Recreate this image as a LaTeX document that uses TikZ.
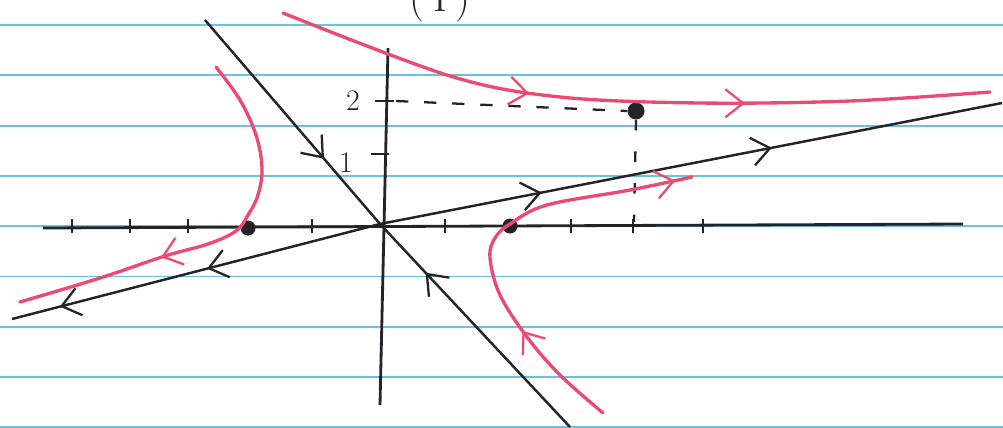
\documentclass[tikz,border=0pt]{standalone}
\usetikzlibrary{arrows.meta,decorations.markings}

\definecolor{ink}{RGB}{35,35,40}
\definecolor{trajred}{RGB}{236,74,112}
\definecolor{ruled}{RGB}{105,195,222}

\begin{document}
\begin{tikzpicture}[
    x=0.02cm, y=-0.02cm,
    ruling/.style={ruled, line width=1.1pt},
    axis/.style={ink, line width=1.6pt},
    manifold/.style={ink, line width=1.4pt},
    traj/.style={trajred, line width=1.9pt, line cap=round},
    tickmark/.style={ink, line width=1.4pt},
    guide/.style={ink, line width=1.3pt, dash pattern=on 7pt off 9pt},
    dot/.style={circle, fill=ink, inner sep=0pt, minimum size=3.4mm},
    lbl/.style={ink, font=\fontsize{17}{17}\selectfont},
    barb/.tip={Straight Barb[length=3.6mm, width=5.6mm, line width=1.3pt]},
    flowat/.style={postaction={decorate, decoration={markings, mark=at position #1 with {\arrow{barb}}}}}]

    \useasboundingbox (0,0) rectangle (1003,427);
    \clip (0,0) rectangle (1003,427);

    % liniertes papier
    \foreach \k in {0,...,8}
        \draw[ruling] (0,{25+50.3*\k}) -- (1003,{25+50.3*\k});

    \node[lbl, font=\fontsize{24}{24}\selectfont, anchor=base] (titel) at (440,11) {(\hspace{5pt}I\hspace{5pt})};

    % achsen
    \coordinate (O) at (380,224);
    \draw[axis] (43,228) -- (963,224);
    \draw[axis] (388,48) -- (380,405);
    \foreach \t in {72,130,188,312,445,571,633,703}
        \draw[tickmark] (\t,219) -- (\t,233);
    \draw[tickmark] (375,101) -- (394,101);
    \draw[tickmark] (371,154) -- (389,154);
    \node[lbl] (zwei) at (353,101) {2};
    \node[lbl] (eins) at (346,163) {1};

    % punkt (2,2) mit hilfslinien
    \node[dot] (p) at (636,111) {};
    \draw[guide] (396,101) -- (p.west);
    \draw[guide, dash pattern=on 6pt off 12pt] (p.south) -- (634,222);
    \node[dot, minimum size=3mm] (q1) at (248,228) {};
    \node[dot, minimum size=3mm] (q2) at (510,226) {};

    % stabile mannigfaltigkeit
    \coordinate (s1) at (205,20);
    \coordinate (s2) at (570,427);
    \draw[manifold, flowat=0.68] (s1) -- (O);
    \draw[manifold, flowat=0.76] (s2) -- (O);

    % instabile mannigfaltigkeit
    \coordinate (u1) at (12,319);
    \coordinate (u2) at (1002,103);
    \draw[manifold, flowat=0.47, flowat=0.87] (O) -- (u1);
    \draw[manifold, flowat=0.26, flowat=0.63] (O) -- (u2);

    % trajektorien
    \draw[traj, flowat=0.36, flowat=0.66] plot[smooth, tension=0.55] coordinates
        {(283,13) (450,76) (560,97) (700,103) (850,101) (990,92)};
    \draw[traj, flowat=0.64] plot[smooth, tension=0.6] coordinates
        {(216,67) (240,100) (256,135) (262,168) (258,195) (248,215) (236,231) (208,244) (165,256) (100,278) (20,302)};
    \draw[traj, flowat=0.27, flowat=0.96] plot[smooth, tension=0.6] coordinates
        {(603,413) (560,375) (527,337) (500,295) (490,258) (495,238) (510,224) (547,205) (630,190) (692,177)};
\end{tikzpicture}
\end{document}
